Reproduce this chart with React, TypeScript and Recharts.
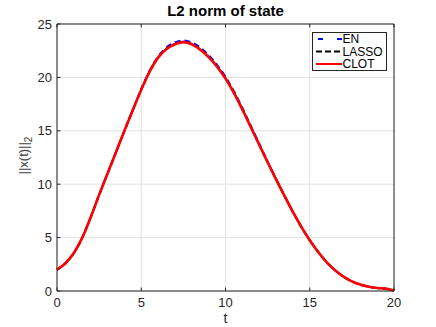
import React from "react";
import {
  LineChart,
  Line,
  XAxis,
  YAxis,
  CartesianGrid,
  Legend,
  Label,
} from "recharts";

const titleText = "L2 norm of state";
const xLabelText = "t";
const xTicks = [0, 5, 10, 15, 20];
const yTicks = [0, 5, 10, 15, 20, 25];
const legendOrder = ["EN", "LASSO", "CLOT"];

const tValues = [
  0, 0.5, 1, 1.5, 2, 2.5, 3, 3.5, 4, 4.5, 5, 5.5, 6, 6.5, 7, 7.5, 8, 8.5, 9, 9.5,
  10, 10.5, 11, 11.5, 12, 12.5, 13, 13.5, 14, 14.5, 15, 15.5, 16, 16.5, 17, 17.5,
  18, 18.5, 19, 19.5, 20,
];

const enValues = [
  2.0, 2.6, 3.55, 5.0, 6.9, 9.0, 11.0, 13.0, 15.0, 16.95, 18.9, 20.62, 21.95,
  22.8, 23.28, 23.46, 23.27, 22.8, 22.08, 21.17, 20.05, 18.7, 17.14, 15.48,
  13.8, 12.12, 10.5, 8.94, 7.42, 6.02, 4.76, 3.66, 2.7, 1.95, 1.35, 0.9, 0.6,
  0.4, 0.28, 0.22, 0.05,
];

const lassoValues = [
  2.0, 2.6, 3.55, 5.0, 6.9, 9.0, 11.0, 13.0, 15.0, 16.95, 18.87, 20.57, 21.87,
  22.68, 23.13, 23.33, 23.12, 22.63, 21.93, 21.03, 19.93, 18.57, 17.02, 15.37,
  13.71, 12.06, 10.46, 8.9, 7.4, 6.0, 4.75, 3.65, 2.7, 1.95, 1.35, 0.9, 0.6,
  0.4, 0.28, 0.22, 0.05,
];

const clotValues = [
  2.0, 2.6, 3.55, 5.0, 6.9, 9.0, 11.0, 13.0, 15.0, 16.95, 18.85, 20.55, 21.85,
  22.65, 23.1, 23.3, 23.1, 22.6, 21.9, 21.0, 19.9, 18.55, 17.0, 15.35, 13.7,
  12.05, 10.45, 8.9, 7.4, 6.0, 4.75, 3.65, 2.7, 1.95, 1.35, 0.9, 0.6, 0.4, 0.28,
  0.22, 0.05,
];

const data = tValues.map((t, i) => ({
  t,
  EN: enValues[i],
  LASSO: lassoValues[i],
  CLOT: clotValues[i],
}));

const AXIS = "#262626";
const FONT = "'Liberation Sans', Arial, Helvetica, sans-serif";
const TICK_LEN = 3.5;

const BottomTick = (props: any) => {
  const { x, y, payload } = props;
  return (
    <g>
      <line x1={x} x2={x} y1={y} y2={y - TICK_LEN} stroke={AXIS} strokeWidth={1} />
      <text x={x} y={y + 16} textAnchor="middle" fontSize={13} fill={AXIS} fontFamily={FONT}>
        {payload.value}
      </text>
    </g>
  );
};

const TopTick = (props: any) => {
  const { x, y } = props;
  return <line x1={x} x2={x} y1={y} y2={y + TICK_LEN} stroke={AXIS} strokeWidth={1} />;
};

const LeftTick = (props: any) => {
  const { x, y, payload } = props;
  return (
    <g>
      <line x1={x} x2={x + TICK_LEN} y1={y} y2={y} stroke={AXIS} strokeWidth={1} />
      <text x={x - 5} y={y + 4.6} textAnchor="end" fontSize={13} fill={AXIS} fontFamily={FONT}>
        {payload.value}
      </text>
    </g>
  );
};

const RightTick = (props: any) => {
  const { x, y } = props;
  return <line x1={x} x2={x - TICK_LEN} y1={y} y2={y} stroke={AXIS} strokeWidth={1} />;
};

const YLabel = (props: any) => {
  const vb = props.viewBox || { x: 0, y: 24, width: 57, height: 267 };
  const cy = vb.y + vb.height / 2 - 2;
  return (
    <text
      transform={`translate(${vb.x + 28}, ${cy}) rotate(-90)`}
      textAnchor="middle"
      fontSize={13}
      fill="#404040"
      fontFamily={FONT}
    >
      ||x(t)||
      <tspan dy={4} fontSize={10}>
        2
      </tspan>
    </text>
  );
};

const dashFor: Record<string, string | undefined> = {
  EN: "5 14",
  LASSO: "6 3",
  CLOT: undefined,
};

const LegendBox = (props: any) => {
  const payload = [...(props.payload || [])].sort(
    (a: any, b: any) => legendOrder.indexOf(a.value) - legendOrder.indexOf(b.value)
  );
  return (
    <svg width={75} height={39} style={{ display: "block" }}>
      <rect x={0.5} y={0.5} width={74} height={38} fill="#fff" stroke={AXIS} strokeWidth={1} />
      {payload.map((entry: any, i: number) => {
        const cy = 7 + i * 12.5;
        return (
          <g key={entry.value}>
            <line
              x1={4}
              x2={30}
              y1={cy}
              y2={cy}
              stroke={entry.color}
              strokeWidth={2}
              strokeDasharray={dashFor[entry.value]}
              strokeDashoffset={entry.value === "EN" ? -2 : 0}
            />
            <text x={30.5} y={cy + 4.2} fontSize={12} fill="#000" fontFamily={FONT}>
              {entry.value}
            </text>
          </g>
        );
      })}
    </svg>
  );
};

export default function App() {
  return (
    <div style={{ position: "absolute", left: 0, top: 0, width: 436, height: 327, background: "#fff" }}>
      <div
        style={{
          position: "absolute",
          left: 57,
          top: 2,
          width: 337,
          textAlign: "center",
          fontFamily: FONT,
          fontWeight: "bold",
          fontSize: 15,
          lineHeight: "18px",
          color: "#000",
          zIndex: 2,
        }}
      >
        {titleText}
      </div>
      <LineChart
        width={436}
        height={327}
        data={data}
        margin={{ top: 23, right: 41, bottom: 0, left: 0 }}
        style={{ fontFamily: FONT }}
      >
        <CartesianGrid stroke="#e2e2e2" strokeWidth={1} />
        <XAxis
          dataKey="t"
          type="number"
          domain={[0, 20]}
          ticks={xTicks}
          height={36}
          tickSize={0}
          tickMargin={0}
          tick={<BottomTick />}
          axisLine={{ stroke: AXIS }}
          interval={0}
        >
          <Label
            value={xLabelText}
            position="insideBottom"
            offset={4}
            fontSize={14}
            fill={AXIS}
            fontFamily={FONT}
          />
        </XAxis>
        <XAxis
          xAxisId="top"
          orientation="top"
          dataKey="t"
          type="number"
          domain={[0, 20]}
          ticks={xTicks}
          height={1}
          tickSize={0}
          tickMargin={0}
          tick={<TopTick />}
          axisLine={{ stroke: AXIS }}
          interval={0}
        />
        <YAxis
          type="number"
          domain={[0, 25]}
          ticks={yTicks}
          width={57}
          tickSize={0}
          tickMargin={0}
          tick={<LeftTick />}
          axisLine={{ stroke: AXIS }}
          interval={0}
          label={<YLabel />}
        />
        <YAxis
          yAxisId="right"
          orientation="right"
          type="number"
          domain={[0, 25]}
          ticks={yTicks}
          width={1}
          tickSize={0}
          tickMargin={0}
          tick={<RightTick />}
          axisLine={{ stroke: AXIS }}
          interval={0}
        />
        <Legend
          layout="vertical"
          align="center"
          verticalAlign="middle"
          content={<LegendBox />}
          wrapperStyle={{ left: 312, top: 32, width: 75, height: 39 }}
        />
        <Line
          type="monotone"
          dataKey="EN"
          name="EN"
          stroke="#0000ff"
          strokeWidth={2}
          strokeDasharray="6 4"
          dot={false}
          isAnimationActive={false}
        />
        <Line
          type="monotone"
          dataKey="LASSO"
          name="LASSO"
          stroke="#000000"
          strokeWidth={2}
          strokeDasharray="5 3"
          dot={false}
          isAnimationActive={false}
        />
        <Line
          type="monotone"
          dataKey="CLOT"
          name="CLOT"
          stroke="#ff0000"
          strokeWidth={2.6}
          dot={false}
          isAnimationActive={false}
        />
      </LineChart>
    </div>
  );
}
